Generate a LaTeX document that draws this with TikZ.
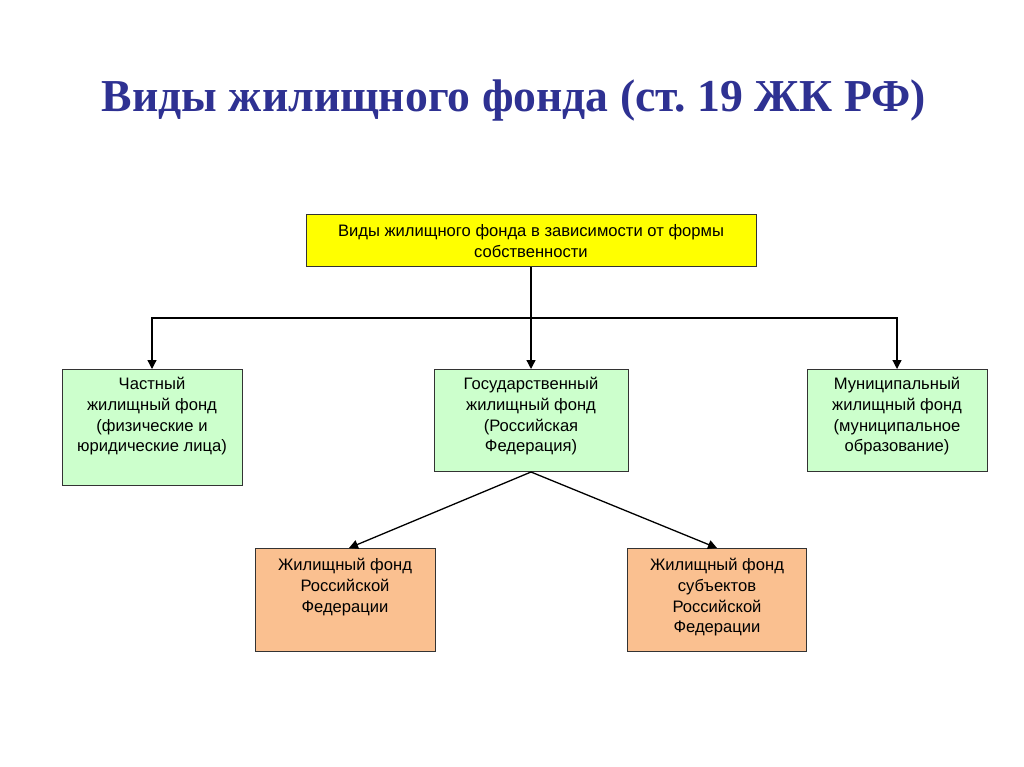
\documentclass[tikz,border=0pt]{standalone}
\usepackage{fontspec}
\setmainfont{Liberation Sans}
\newfontfamily\titlefont{Liberation Serif}
\usetikzlibrary{arrows.meta}
\definecolor{titleblue}{RGB}{46,49,146}
\definecolor{boxyellow}{RGB}{255,255,0}
\definecolor{boxgreen}{RGB}{204,255,204}
\definecolor{boxorange}{RGB}{250,192,144}
\newcommand{\celltext}[3]{\parbox[t][#2pt][t]{#1pt}{\centering #3}}
\tikzset{
  fond/.style={draw=black!80, line width=1pt, inner sep=0pt, anchor=north,
    font=\fontsize{16.6}{20.6}\selectfont},
  arr/.style={-{Triangle[length=9pt,width=9pt]}, line width=1.3pt}
}
\begin{document}
\begin{tikzpicture}[x=1pt,y=-1pt]
\useasboundingbox[fill=white] (0,0) rectangle (1024,767);
\node[font=\titlefont\bfseries\fontsize{45.7}{50}\selectfont, text=titleblue] (title) at (514,101) {Виды жилищного фонда (ст.~19 ЖК РФ)};
% top level
\node[fond, fill=boxyellow] (vidy) at (531,214) {\celltext{450}{52}{\vspace{10pt}Виды жилищного фонда в зависимости от формы\\собственности}};
% forms of ownership
\node[fond, fill=boxgreen] (chast) at (152,369) {\celltext{180}{116}{\vspace{8pt}Частный\\жилищный фонд\\(физические и\\юридические лица)}};
\node[fond, fill=boxgreen] (gos) at (531,369) {\celltext{194}{102}{\vspace{8pt}Государственный\\жилищный фонд\\(Российская\\Федерация)}};
\node[fond, fill=boxgreen] (mun) at (897,369) {\celltext{180}{102}{\vspace{8pt}Муниципальный\\жилищный фонд\\(муниципальное\\образование)}};
% state fund
\node[fond, fill=boxorange] (rf) at (345,548) {\celltext{180}{103}{\vspace{10pt}Жилищный фонд\\Российской\\Федерации}};
\node[fond, fill=boxorange] (subj) at (717,548) {\celltext{179}{103}{\vspace{10pt}Жилищный фонд\\субъектов\\Российской\\Федерации}};
\coordinate (bus) at (531,318);
\draw[line width=1.3pt] (vidy.south) -- (bus);
\draw[arr] (vidy.south) -- (gos.north);
\draw[arr] (bus) -| (chast.north);
\draw[arr] (bus) -| (mun.north);
\draw[arr] (gos.south) -- ([xshift=4pt]rf.north);
\draw[arr] (gos.south) -- (subj.north);
\end{tikzpicture}
\end{document}
